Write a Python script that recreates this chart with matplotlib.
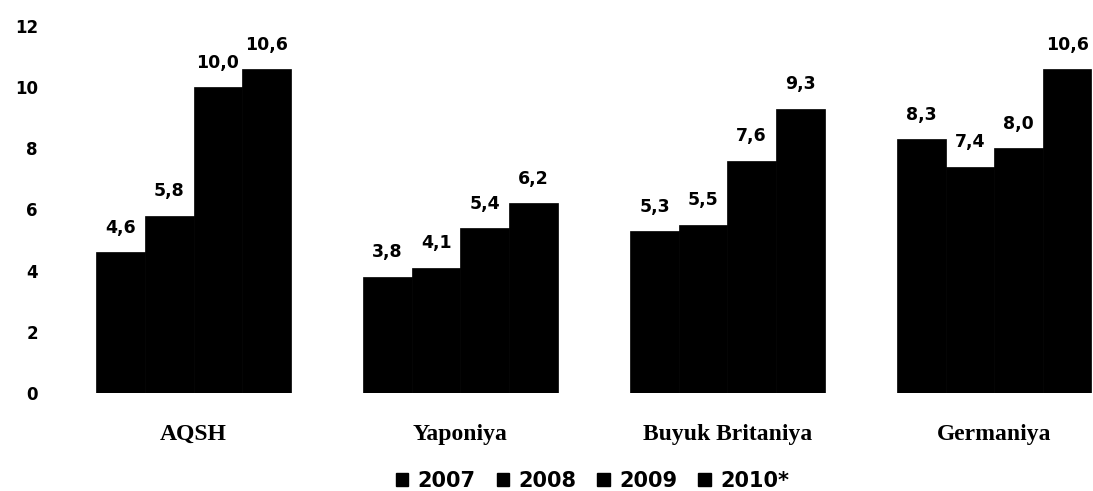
import numpy as np
from matplotlib import pyplot as plt
from matplotlib.patches import Patch

# Data
countries = ['AQSH', 'Yaponiya', 'Buyuk Britaniya', 'Germaniya']
years = ['2007', '2008', '2009', '2010*']
v2007 = [4.6, 3.8, 5.3, 8.3]
v2008 = [5.8, 4.1, 5.5, 7.4]
v2009 = [10.0, 5.4, 7.6, 8.0]
v2010 = [10.6, 6.2, 9.3, 10.6]
series = [v2007, v2008, v2009, v2010]
yticks = [0, 2, 4, 6, 8, 10, 12]

fig = plt.figure(figsize=(10.93, 4.91), dpi=100)
ax = fig.add_axes([0.055, 0.1996, 0.945, 0.7475])

x = np.arange(len(countries))
w = 0.182
for i, vals in enumerate(series):
    pos = x + (i - 1.5) * w
    ax.bar(pos, vals, width=w, color='black', edgecolor='black', linewidth=0.5)
    # value labels, decimal comma
    for px, v in zip(pos, vals):
        ax.text(px, v + 0.5, f'{v:.1f}'.replace('.', ','), ha='center', va='bottom',
                fontsize=12.5, fontweight='bold', family='DejaVu Sans')

ax.set_xlim(-0.5, 3.37)
ax.set_ylim(0, 12)
ax.set_yticks(yticks)
ax.set_yticklabels([str(t) for t in yticks], fontsize=12, fontweight='bold')
ax.set_xticks(x)
ax.set_xticklabels(countries, fontsize=17, fontweight='bold', family='Liberation Serif')
ax.tick_params(length=0)
ax.tick_params(axis='y', pad=16)
ax.tick_params(axis='x', pad=22)
for s in ax.spines.values():
    s.set_visible(False)

handles = [Patch(facecolor='black', edgecolor='black') for _ in years]
fig.legend(handles, years, loc='center', bbox_to_anchor=(0.542, 0.02), ncol=4,
           frameon=False, handlelength=0.6, handleheight=0.6, handletextpad=0.45,
           columnspacing=1.0, borderpad=0, prop={'size': 15, 'weight': 'bold'})

fig.savefig('out.png', dpi=100)
